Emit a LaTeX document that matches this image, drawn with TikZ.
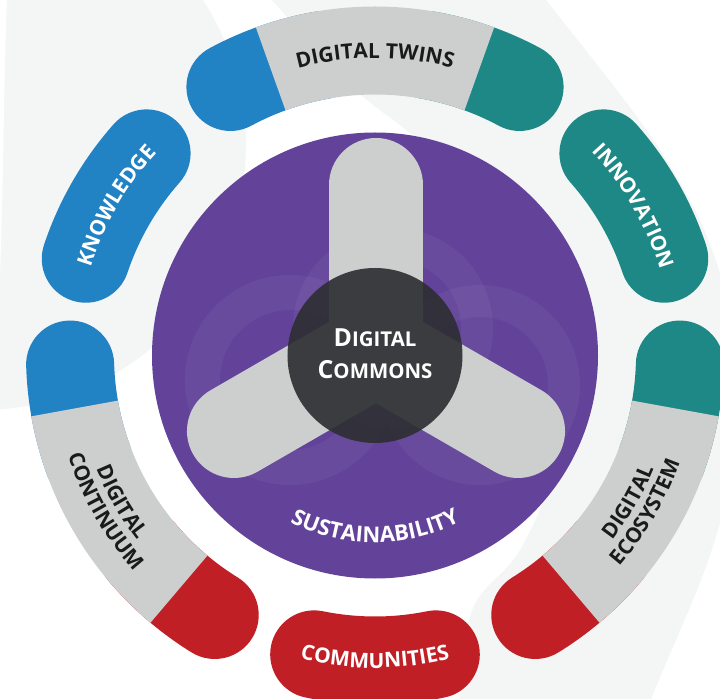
\documentclass[tikz,border=0pt]{standalone}
\usepackage{fontspec}
\setmainfont{Open Sans}
\usepackage{tikz}
\usetikzlibrary{decorations.text}
\definecolor{dcblue}{RGB}{33,130,196}
\definecolor{dcteal}{RGB}{29,136,133}
\definecolor{dcred}{RGB}{193,31,38}
\definecolor{dcgray}{RGB}{205,207,207}
\definecolor{dcpurple}{RGB}{99,67,154}
\definecolor{dcdark}{RGB}{45,46,50}
\definecolor{dcshade}{RGB}{244,245,245}
\definecolor{dctext}{RGB}{26,26,26}
\newcommand{\lblfont}{\bfseries\fontsize{21}{21}\selectfont}

\begin{document}
\begin{tikzpicture}[x=1bp, y=1bp,
    band/.style={line width=88bp, dcgray},
    pill/.style={line width=88bp, line cap=round},
    spoke/.style={line width=94bp, line cap=round, dcgray},
    arctext/.style={decorate, decoration={text along path, text align=center, text={#1}}}]
        \useasboundingbox (-375,-343.5) rectangle (345,355.5);
        \fill[white] (-375,-343.5) rectangle (345,355.5);

        % Background swooshes
        \fill[dcshade] (-394,210.5) circle (265);
        \fill[white] (-380,360) -- (-368,360) to[out=-92,in=88] (-375,80.5) -- (-380,80.5) -- cycle;
        \fill[dcshade] (-140,390) to[out=-40,in=140] (-8,255.5) to[out=-40,in=140] (35,222.5)
            to[out=-40,in=90] (185,0) to[out=-90,in=60] (145,-194.5) to[out=240,in=75] (95,-261.5)
            to[out=255,in=85] (82,-390) -- (258,-390) to[out=70,in=-90] (362,-40)
            to[out=90,in=-52] (171,355.5) -- (150,390) -- cycle;

        % Sustainability disc
        \fill[dcpurple] (0,0) circle (223);
        \begin{scope}
            \clip (0,0) circle (223);
            \fill[white, fill opacity=0.045, even odd rule] (-85,-24.5) circle (105) (-85,-24.5) circle (70);
            \fill[white, fill opacity=0.045, even odd rule] (105,-29.5) circle (100) (105,-29.5) circle (68);
            \fill[white, fill opacity=0.045, even odd rule] (18,27.5) circle (100) (18,27.5) circle (68);
        \end{scope}

        % Spokes
        \coordinate (hub) at (1,6.5);
        \foreach \a in {90,210,330}
            \draw[spoke] (hub) -- ++(\a:164);

        % Centre
        \fill[dcdark, fill opacity=0.91] (0,0) circle (87.5);
        \node[text=white, align=center, font=\bfseries\fontsize{25}{32}\selectfont] (commons) at (0,1.5)
            {D{\fontsize{20.5}{32}\selectfont IGITAL}\\C{\fontsize{20.5}{32}\selectfont OMMONS}};

        % Coloured ends of the grey bands
        \draw[pill, dcblue] (118.3:305) arc[start angle=118.3, end angle=100, radius=305];
        \draw[pill, dcteal] (61.7:305) arc[start angle=61.7, end angle=80, radius=305];
        \draw[pill, dcblue] (181.7:305) arc[start angle=181.7, end angle=200, radius=305];
        \draw[pill, dcred] (238.3:305) arc[start angle=238.3, end angle=220, radius=305];
        \draw[pill, dcred] (301.7:305) arc[start angle=301.7, end angle=320, radius=305];
        \draw[pill, dcteal] (358.3:305) arc[start angle=358.3, end angle=340, radius=305];

        % Grey bands
        \draw[band] (70:305) arc[start angle=70, end angle=110, radius=305];
        \draw[band] (190:305) arc[start angle=190, end angle=230, radius=305];
        \draw[band] (310:305) arc[start angle=310, end angle=350, radius=305];

        % Pills
        \draw[pill, dcblue] (138.5:305) arc[start angle=138.5, end angle=161.5, radius=305];
        \draw[pill, dcteal] (18.5:305) arc[start angle=18.5, end angle=41.5, radius=305];
        \draw[pill, dcred] (258.5:305) arc[start angle=258.5, end angle=281.5, radius=305];

        % Labels
        \path[arctext={|\lblfont\color{dctext}|DIGITAL TWINS}] (125:297.5) arc[start angle=125, end angle=55, radius=297.5];
        \path[arctext={|\lblfont\color{white}|KNOWLEDGE}] (185:297.5) arc[start angle=185, end angle=115, radius=297.5];
        \path[arctext={|\lblfont\color{white}|INNOVATION}] (65:297.5) arc[start angle=65, end angle=-5, radius=297.5];
        \path[arctext={|\lblfont\color{white}|COMMUNITIES}] (230:312.5) arc[start angle=230, end angle=310, radius=312.5];
        \path[arctext={|\lblfont\color{dctext}|DIGITAL}] (170:301) arc[start angle=170, end angle=250, radius=301];
        \path[arctext={|\lblfont\color{dctext}|CONTINUUM}] (170:323) arc[start angle=170, end angle=250, radius=323];
        \path[arctext={|\lblfont\color{dctext}|DIGITAL}] (290:301) arc[start angle=290, end angle=370, radius=301];
        \path[arctext={|\lblfont\color{dctext}|ECOSYSTEM}] (290:323) arc[start angle=290, end angle=370, radius=323];
        \path[arctext={|\bfseries\fontsize{22}{22}\selectfont\color{white}|SUSTAINABILITY}] (225:187) arc[start angle=225, end angle=315, radius=187];
\end{tikzpicture}
\end{document}
